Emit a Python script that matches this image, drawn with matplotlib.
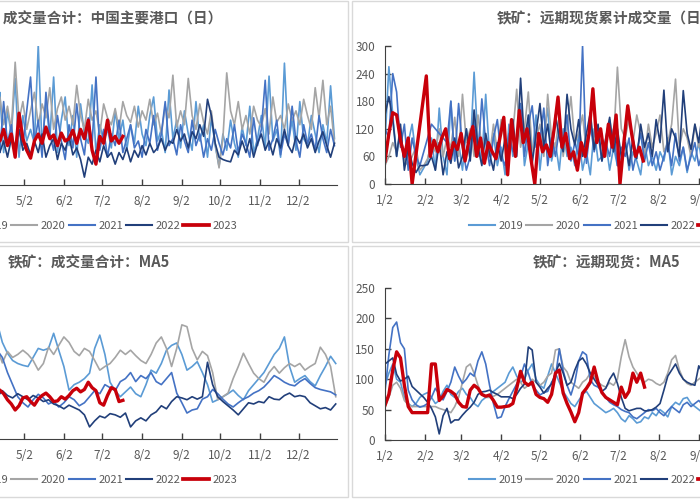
import numpy as np
import matplotlib
matplotlib.use('Agg')
import matplotlib.pyplot as plt
from matplotlib.patches import Rectangle
from matplotlib.lines import Line2D

plt.rcParams['font.family'] = ['Noto Sans CJK SC', 'DejaVu Sans']

# ---------------- data ----------------
years = ['2019', '2020', '2021', '2022', '2023']
month_days = [2, 33, 61, 92, 122, 153, 183, 214, 245, 275, 306, 336]
month_labels = ['1/2', '2/2', '3/2', '4/2', '5/2', '6/2', '7/2', '8/2', '9/2', '10/2', '11/2', '12/2']

titles = ['铁矿：成交量合计：中国主要港口（日）', '铁矿：远期现货累计成交量（日）',
          '铁矿：成交量合计：MA5', '铁矿：远期现货：MA5']

# Panel A: 成交量合计 daily (start day 97, every 3 days)
tl_2019 = [140, 90, 200, 70, 160, 110, 230, 60, 150, 95,
           120, 90, 302, 80, 180, 100, 233, 70, 140, 190,
           85, 150, 60, 175, 110, 90, 216, 70, 130, 95,
           120, 80, 160, 100, 140, 75, 130, 90, 170, 110,
           85, 150, 190, 95, 120, 70, 205, 100, 140, 80,
           160, 110, 75, 180, 95, 130, 60, 145, 85, 40,
           110, 75, 140, 90, 60, 125, 85, 170, 70, 100,
           150, 80, 235, 95, 120, 60, 263, 90, 140, 75,
           180, 100, 85, 150, 110, 70, 130, 90, 214, 100]
tl_2020 = [150, 110, 190, 130, 170, 120, 265, 140, 180, 120,
           160, 200, 130, 175, 145, 210, 120, 165, 190, 140,
           170, 130, 215, 150, 120, 185, 140, 160, 110, 175,
           145, 130, 165, 120, 180, 150, 135, 170, 125, 160,
           140, 185, 130, 155, 110, 170, 145, 237, 125, 160,
           130, 230, 150, 120, 175, 135, 110, 160, 90, 37,
           100, 242, 160, 130, 180, 120, 150, 110, 170, 140,
           125, 165, 110, 190, 135, 150, 120, 175, 140, 160,
           130, 185, 150, 120, 210, 145, 226, 130, 170, 90]
tl_2021 = [100, 150, 70, 180, 90, 130, 60, 120, 85, 160,
           233, 90, 140, 60, 200, 110, 75, 150, 95, 55,
           130, 80, 175, 100, 65, 145, 90, 233, 75, 120,
           60, 110, 85, 140, 70, 100, 130, 80, 95, 60,
           120, 90, 150, 75, 110, 180, 85, 100, 65, 130,
           95, 70, 140, 85, 110, 60, 100, 75, 120, 90,
           65, 100, 80, 130, 70, 110, 90, 60, 145, 85,
           120, 226, 75, 100, 140, 65, 110, 85, 170, 95,
           60, 130, 90, 110, 75, 150, 100, 70, 120, 85]
tl_2022 = [80, 110, 70, 95, 60, 100, 85, 120, 75, 90, 65,
           95, 70, 110, 60, 85, 100, 55, 90, 75, 105, 65,
           80, 55, 17, 60, 45, 75, 50, 85, 60, 70,
           45, 70, 55, 80, 50, 75, 60, 85, 65, 90, 70, 80, 100, 75, 95,
           90, 120, 95, 110, 80, 115, 100, 130, 105,
           185, 150, 90, 60, 55, 52, 50, 75, 65, 95,
           70, 100, 60, 90, 110, 75, 95, 65, 100, 80, 120, 85,
           70, 105, 90, 110, 80, 100, 70, 95, 115, 85, 60, 90]
tl_2023 = [105, 130, 95, 120, 85, 110, 60, 155, 100, 75, 58, 95, 110, 90, 125,
           100, 108, 85, 112, 95, 100, 118, 90, 120, 100, 140, 75, 45, 105, 90,
           140, 95, 105, 90, 105]

# Panel B: 远期现货累计成交量 daily (start day 2, every 3 days)
tr_2019 = [90, 255, 150, 60, 120, 40, 90, 130, 60, 20,
           35, 50, 100, 30, 165, 60, 20, 180, 50, 90,
           30, 120, 70, 243, 90, 50, 195, 60, 110, 40,
           80, 20, 130, 60, 100, 170, 40, 90, 60, 150,
           30, 110, 165, 50, 90, 30, 120, 60, 80, 40,
           110, 30, 70, 20, 120, 50, 60, 90, 30, 80,
           40, 60, 100, 30, 70, 50, 20, 90, 40, 60,
           30, 70, 50, 100, 20, 60, 40, 80, 25, 70,
           50, 90, 40]
tr_2020 = [40, 60, 90, 70, 110, 50, 40, 60, 80, 30,
           40, 55, 90, 70, 120, 60, 100, 80, 145, 60,
           195, 90, 120, 60, 150, 80, 100, 60, 130, 70,
           140, 90, 60, 110, 206, 80, 120, 200, 70, 100,
           130, 60, 195, 100, 80, 150, 60, 120, 190, 90,
           110, 150, 70, 130, 90, 120, 100, 60, 140, 90,
           254, 120, 100, 140, 90, 150, 110, 60, 130, 80,
           110, 150, 70, 90, 130, 228, 80, 120, 100, 60,
           130, 80, 110]
tr_2021 = [120, 100, 240, 200, 80, 130, 30, 100, 60, 40,
           70, 100, 130, 120, 110, 100, 90, 180, 50, 175,
           80, 30, 60, 140, 60, 185, 90, 40, 100, 140,
           60, 40, 110, 70, 90, 175, 60, 130, 170, 80,
           95, 165, 40, 100, 60, 120, 80, 150, 50, 90,
           60, 300, 45, 130, 70, 110, 50, 90, 60, 120,
           40, 80, 60, 100, 30, 70, 110, 50, 90, 40,
           70, 30, 60, 90, 40, 110, 50, 80, 30, 60,
           90, 40, 70]
tr_2022 = [150, 190, 140, 60, 130, 30, 80, 45, 25, 40,
           40, 42, 60, 30, 90, 20, 70, 45, 100, 35,
           60, 120, 50, 161, 80, 40, 110, 65, 30, 90,
           50, 100, 70, 140, 60, 230, 90, 150, 45, 110,
           175, 80, 130, 60, 150, 100, 70, 195, 120, 85,
           140, 60, 110, 155, 75, 130, 50, 100, 145, 70,
           120, 60, 90, 40, 100, 55, 130, 80, 110, 60,
           140, 90, 204, 70, 120, 100, 60, 203, 110, 75,
           130, 90, 160]
tr_2023_a = [50, 110, 155, 150, 95, 60, 100, 0]          # from day 2
tr_2023_b = [235, 60, 95, 70, 100, 120, 55, 90, 75, 110,  # from day 34 (after holiday)
             50, 95, 125, 60, 100, 45, 90, 70, 55, 100,
             145, 20, 140, 60, 160, 90, 120, 55, 0, 110,
             70, 85, 60, 120, 189, 80, 110, 55, 70, 30,
             90, 60, 110, 207, 90, 120, 60, 130, 80, 150,
             0, 90, 170, 110, 60, 80, 50]

# Panel C: 成交量合计 MA5 (start day 97, every 4 days; 2023 every 3 days)
bl_2019 = [200, 192, 160, 142, 130, 125, 122, 120, 135, 150,
           147, 150, 175, 147, 120, 81, 90, 94, 100, 109,
           150, 172, 140, 94, 80, 70, 78, 86, 75, 70,
           90, 114, 109, 125, 147, 155, 159, 140, 114, 120,
           128, 110, 90, 61, 65, 70, 75, 81, 72, 65,
           80, 90, 100, 110, 125, 140, 150, 169, 120, 94,
           100, 105, 95, 88, 105, 120, 137, 125]
bl_2020 = [135, 150, 126, 145, 135, 140, 147, 140, 130, 114,
           125, 152, 140, 155, 169, 160, 145, 138, 150, 145,
           130, 114, 120, 125, 135, 147, 140, 147, 138, 130,
           125, 140, 159, 169, 150, 120, 150, 189, 186, 150,
           131, 145, 138, 110, 65, 70, 76, 100, 120, 142,
           125, 109, 100, 94, 110, 120, 109, 118, 125, 120,
           125, 114, 120, 125, 152, 140, 120, 70]
bl_2021 = [140, 147, 135, 110, 90, 70, 60, 53, 65, 74,
           68, 58, 62, 53, 60, 70, 65, 55, 60, 70,
           80, 75, 90, 85, 80, 95, 100, 110, 95, 105,
           100, 110, 95, 90, 100, 110, 76, 60, 43, 48,
           50, 66, 70, 82, 75, 66, 58, 53, 60, 66,
           70, 76, 80, 86, 95, 105, 100, 94, 90, 88,
           95, 100, 92, 85, 82, 80, 78, 73]
bl_2022 = [75, 70, 80, 72, 68, 75, 70, 65, 72, 68,
           62, 65, 58, 55, 50, 56, 52, 48, 40, 20,
           30, 38, 35, 42, 40, 36, 43, 20, 30, 35,
           30, 40, 45, 55, 50, 62, 70, 68, 65, 70,
           66, 70, 127, 90, 70, 62, 55, 48, 40, 50,
           60, 58, 62, 60, 70, 66, 65, 72, 76, 70,
           72, 70, 60, 55, 50, 52, 48, 58]
bl_2023 = [85, 80, 81, 75, 65, 58, 48, 55, 68, 70, 62, 56, 66, 72, 76, 70, 62, 63,
           70, 66, 72, 80, 84, 78, 82, 94, 85, 80, 60, 56, 72, 85, 82, 62, 64]

# Panel D: 远期现货 MA5 (start day 2, every 3 days)
br_2019 = [90, 110, 125, 100, 95, 70, 60, 55, 60, 70,
           75, 78, 70, 60, 65, 80, 90, 75, 70, 80,
           85, 75, 70, 60, 55, 65, 70, 75, 80, 85,
           90, 95, 110, 120, 105, 95, 100, 115, 125, 100,
           90, 85, 105, 125, 110, 95, 80, 70, 60, 55,
           65, 75, 80, 70, 60, 55, 50, 45, 48, 52,
           45, 35, 30, 40, 35, 28, 30, 38, 35, 45,
           40, 50, 45, 38, 55, 62, 58, 68, 70, 60,
           55, 50, 45]
br_2020 = [55, 70, 90, 95, 85, 65, 58, 55, 55, 55,
           55, 55, 55, 55, 52, 50, 48, 45, 55, 70,
           95, 120, 125, 110, 90, 75, 70, 70, 72, 75,
           80, 85, 90, 95, 100, 95, 85, 90, 100, 95,
           90, 95, 105, 110, 148, 150, 120, 112, 95, 90,
           85, 95, 100, 110, 105, 95, 90, 87, 94, 90,
           100, 137, 165, 137, 120, 110, 100, 95, 100, 98,
           93, 90, 95, 110, 132, 139, 115, 100, 93, 90,
           95, 100, 105]
br_2021 = [80, 140, 185, 194, 160, 150, 82, 66, 58, 54,
           56, 60, 70, 85, 75, 66, 80, 95, 120, 105,
           93, 100, 110, 105, 130, 145, 125, 90, 60, 36,
           38, 55, 68, 80, 92, 104, 125, 110, 90, 82,
           74, 78, 80, 95, 104, 150, 114, 90, 74, 95,
           130, 145, 140, 99, 90, 87, 80, 70, 62, 58,
           55, 50, 47, 45, 38, 35, 40, 45, 50, 48,
           52, 45, 40, 48, 55, 50, 45, 58, 62, 55,
           60, 65, 58]
br_2022 = [125, 130, 135, 108, 97, 100, 105, 88, 82, 76,
           70, 62, 52, 38, 10, 40, 52, 28, 33, 33,
           41, 48, 54, 62, 75, 79, 80, 82, 78, 75,
           71, 71, 71, 68, 75, 85, 92, 153, 148, 95,
           87, 77, 85, 92, 110, 126, 110, 90, 95, 115,
           130, 135, 125, 110, 100, 90, 80, 85, 100, 110,
           93, 70, 52, 48, 50, 52, 52, 48, 48, 50,
           54, 60, 82, 105, 115, 125, 110, 100, 95, 92,
           90, 122, 110]
br_2023 = [57, 75, 115, 145, 135, 90, 55, 45, 45, 45,
           45, 45, 125, 125, 65, 72, 83, 80, 75, 62,
           55, 54, 82, 90, 85, 75, 72, 74, 65, 54,
           54, 55, 56, 60, 85, 113, 95, 90, 95, 75,
           70, 68, 62, 75, 110, 115, 77, 60, 46, 30,
           45, 77, 85, 95, 120, 95, 78, 70, 66, 62,
           58, 87, 70, 80, 110, 95, 110, 87]

# ---------------- style ----------------
colors = {'2019': '#5B9BD5', '2020': '#A5A5A5', '2021': '#4472C4',
          '2022': '#213F7A', '2023': '#C8000A'}
widths = {'2019': 1.2, '2020': 1.2, '2021': 1.2, '2022': 1.2, '2023': 2.4}
TXT = '#595959'
AX = '#404040'

W, H = 700, 500
fig = plt.figure(figsize=(7, 5), dpi=100)


def fx(p):
    return p / W


def fy(p):
    return 1 - p / H


def segs(pairs):
    xs, ys = [], []
    for start, step, vals in pairs:
        xs.extend(start + step * np.arange(len(vals)))
        ys.extend(vals)
    return np.array(xs), np.array(ys)


left_months = slice(4, 12)   # the part of the year that is in view on the left panels
right_months = slice(0, 9)   # the part of the year that is in view on the right panels

panels = [
    dict(rect=(-131, 185, 468, 139), xlim=(1, 366), ylim=(0, 300), yticks=None, months=left_months,
         series={'2019': [(97, 3, tl_2019)], '2020': [(97, 3, tl_2020)], '2021': [(97, 3, tl_2021)],
                 '2022': [(97, 3, tl_2022)], '2023': [(97, 3, tl_2023)]},
         title=(-40, 18), legend=(-46, 226)),
    dict(rect=(385, 184, 470, 138), xlim=(2, 366), ylim=(0, 300), yticks=np.arange(0, 301, 60),
         months=right_months,
         series={'2019': [(2, 3, tr_2019)], '2020': [(2, 3, tr_2020)], '2021': [(2, 3, tr_2021)],
                 '2022': [(2, 3, tr_2022)], '2023': [(2, 3, tr_2023_a), (34, 3, tr_2023_b)]},
         title=(497, 18), legend=(469, 226)),
    dict(rect=(-131, 439, 468, 151), xlim=(1, 366), ylim=(0, 250), yticks=None, months=left_months,
         series={'2019': [(97, 4, bl_2019)], '2020': [(97, 4, bl_2020)], '2021': [(97, 4, bl_2021)],
                 '2022': [(97, 4, bl_2022)], '2023': [(97, 3, bl_2023)]},
         title=(8, 262), legend=(-46, 480)),
    dict(rect=(385, 440, 470, 152), xlim=(2, 366), ylim=(0, 250), yticks=np.arange(0, 251, 50),
         months=right_months,
         series={'2019': [(2, 3, br_2019)], '2020': [(2, 3, br_2020)], '2021': [(2, 3, br_2021)],
                 '2022': [(2, 3, br_2022)], '2023': [(2, 3, br_2023)]},
         title=(533, 262), legend=(469, 480)),
]

# panel frames
for (x0, y0, x1, y1) in [(-10, 1, 348, 242), (352, 1, 710, 242), (-10, 246, 348, 497), (352, 246, 710, 497)]:
    fig.add_artist(Rectangle((fx(x0), fy(y1)), (x1 - x0) / W, (y1 - y0) / H,
                             transform=fig.transFigure, fill=False, ec='#D9D9D9', lw=1.0))

for p, title in zip(panels, titles):
    left, bottom, w, h = p['rect']
    ax = fig.add_axes([fx(left), fy(bottom), w / W, h / H])
    for yr in years:
        xs, ys = segs(p['series'][yr])
        ax.plot(xs, ys, color=colors[yr], lw=widths[yr], solid_joinstyle='round')
    ax.set_xlim(*p['xlim'])
    ax.set_ylim(*p['ylim'])
    ax.set_xticks(month_days[p['months']])
    ax.set_xticklabels(month_labels[p['months']])
    for s in ['top', 'right']:
        ax.spines[s].set_visible(False)
    ax.spines['bottom'].set_color(AX)
    ax.spines['left'].set_color(AX)
    ax.tick_params(axis='x', direction='in', length=4, width=1, color=AX, pad=7,
                   labelsize=8.5, labelcolor=TXT)
    if p['yticks'] is None:
        ax.spines['left'].set_visible(False)
        ax.set_yticks([])
    else:
        ax.set_yticks(p['yticks'])
        ax.tick_params(axis='y', direction='in', length=4, width=1, color=AX, pad=7,
                       labelsize=8.5, labelcolor=TXT)
    ax.patch.set_alpha(0)
    fig.text(fx(p['title'][0]), fy(p['title'][1]), title, ha='left', va='center',
             fontsize=10.5, color=TXT, fontweight='bold')
    handles = [Line2D([], [], color=colors[yr], lw=widths[yr] + 0.3) for yr in years]
    fig.legend(handles, years, loc='center left', bbox_to_anchor=(fx(p['legend'][0]), fy(p['legend'][1])),
               ncol=5, frameon=False, fontsize=8, labelcolor=TXT, handlelength=2.35,
               handletextpad=0.3, columnspacing=0.28, borderpad=0, borderaxespad=0)

fig.savefig('out.png', dpi=100)
